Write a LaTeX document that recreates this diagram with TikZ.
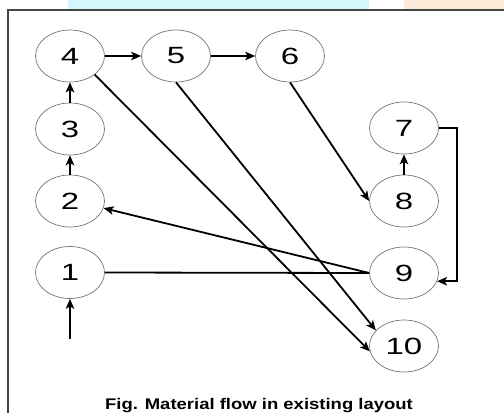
\documentclass[tikz,border=0pt]{standalone}
\usepackage{fontspec}
\setmainfont{Liberation Sans}
\newfontfamily\digitfont[FakeStretch=1.4]{Liberation Sans}
\newfontfamily\captionfont[FakeStretch=1.2]{Liberation Sans}
\usetikzlibrary{arrows.meta,shapes.geometric}
\definecolor{bandcyan}{RGB}{212,246,253}
\definecolor{bandpeach}{RGB}{253,235,218}
\definecolor{framegray}{RGB}{70,70,70}

\begin{document}
\begin{tikzpicture}[x=1pt,y=-1pt,
  station/.style={draw=black!55, line width=0.7pt, ellipse,
    minimum width=69pt, minimum height=52pt, inner sep=0pt,
    font=\digitfont\fontsize{23.5}{24}\selectfont},
  flow/.style={line width=1.8pt, -{Stealth[length=10pt,width=8.5pt,inset=2.5pt]}},
  link/.style={line width=1.8pt},
  captiontext/.style={anchor=base, inner sep=0pt,
    font=\captionfont\bfseries\fontsize{15.4}{16}\selectfont}]

\useasboundingbox (0,0) rectangle (504,413);

% colour bands along the top edge and the frame
\fill[bandcyan] (68,0) rectangle (369,9.5);
\fill[bandpeach] (404,0) rectangle (504,9.5);
\draw[framegray, line width=1.4pt] (8,413) -- (8,10) -- (504,10);

% work stations
\node[station] (4) at (70,56) {4};
\node[station] (5) at (176,56) {5};
\node[station] (6) at (290,56) {6};
\node[station] (3) at (70,129) {3};
\node[station] (2) at (70,201) {2};
\node[station] (1) at (70,272.5) {1};
\node[station] (7) at (404,128) {7};
\node[station] (8) at (404,201) {8};
\node[station] (9) at (404,273) {9};
\node[station] (10) at (404,346) {10};

% material flow
\coordinate (in) at (70,339);
\coordinate (loop) at (457,128);
\draw[flow] (in) -- (1.south);
\draw[link] (1.east) -- (9.west);
\draw[flow] (9.west) -- (2.-12);
\draw[flow] (2.north) -- (3.south);
\draw[flow] (3.north) -- (4.south);
\draw[flow] (4.east) -- (5.west);
\draw[flow] (5.east) -- (6.west);
\draw[flow] (6.south) -- (8.west);
\draw[flow] (8.north) -- (7.south);
\draw[flow] (7.east) -- (loop) -- (loop |- 9.-14) -- (9.-14);
\draw[flow] (4.-37) -- (10.189);
\draw[flow] (5.south) -- (10.151);

% caption
\node[captiontext] (cap) at (259,409.3) {Fig. Material flow in existing layout};
\end{tikzpicture}
\end{document}
